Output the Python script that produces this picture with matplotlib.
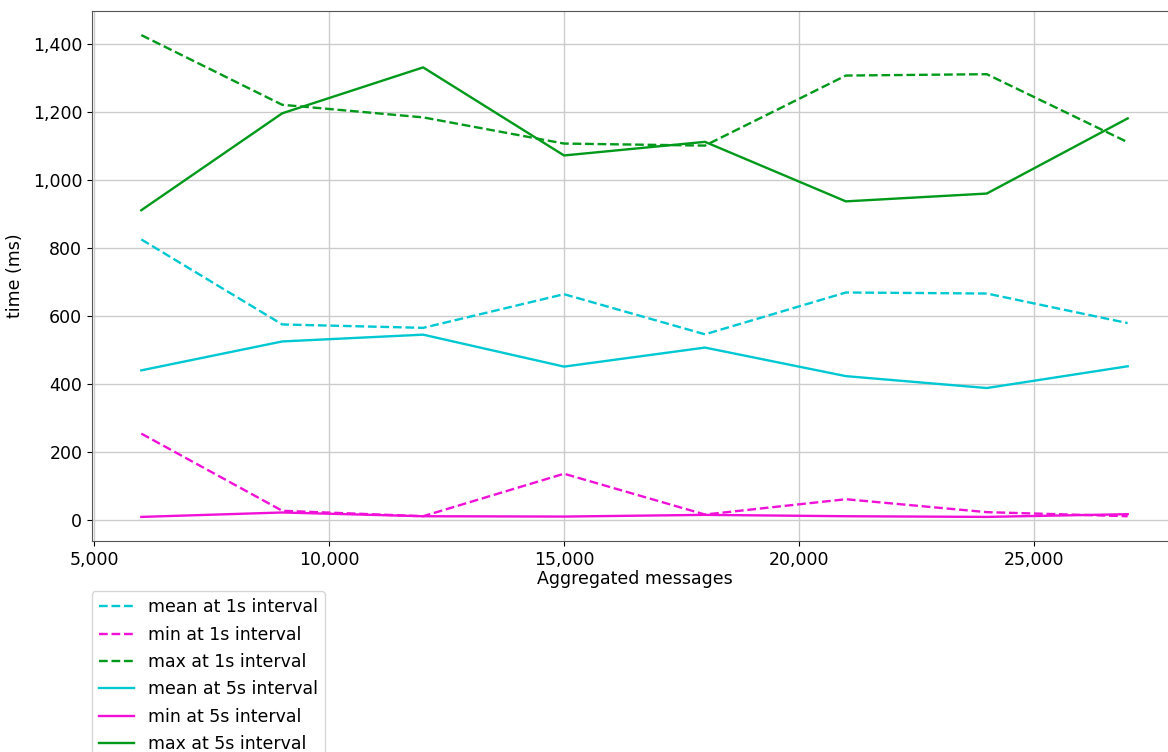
import matplotlib
matplotlib.use("Agg")
import matplotlib.pyplot as plt
from matplotlib.ticker import FuncFormatter

messages = [6000, 9000, 12000, 15000, 18000, 21000, 24000, 27000]

mean_1s = [826, 576, 566, 665, 547, 670, 667, 580]
min_1s = [255, 28, 12, 137, 17, 62, 24, 12]
max_1s = [1427, 1222, 1185, 1108, 1102, 1308, 1312, 1112]

mean_5s = [441, 526, 546, 452, 508, 424, 389, 453]
min_5s = [10, 23, 12, 11, 16, 12, 10, 18]
max_5s = [912, 1197, 1332, 1073, 1113, 938, 961, 1182]

CYAN = '#00c8d2'
MAGENTA = '#f010d8'
GREEN = '#00991a'

fig = plt.figure(figsize=(11.68, 7.52), dpi=100)
ax = fig.add_axes([92 / 1168, 1 - 541 / 752, 1085 / 1168, 530 / 752])

ax.plot(messages, mean_1s, '--', color=CYAN, lw=1.7, label='mean at 1s interval')
ax.plot(messages, min_1s, '--', color=MAGENTA, lw=1.7, label='min at 1s interval')
ax.plot(messages, max_1s, '--', color=GREEN, lw=1.7, label='max at 1s interval')
ax.plot(messages, mean_5s, '-', color=CYAN, lw=1.7, label='mean at 5s interval')
ax.plot(messages, min_5s, '-', color=MAGENTA, lw=1.7, label='min at 5s interval')
ax.plot(messages, max_5s, '-', color=GREEN, lw=1.7, label='max at 5s interval')

comma = FuncFormatter(lambda v, p: '{:,.0f}'.format(v))
ax.xaxis.set_major_formatter(comma)
ax.yaxis.set_major_formatter(comma)
ax.set_yticks([0, 200, 400, 600, 800, 1000, 1200, 1400])
ax.set_xticks([5000, 10000, 15000, 20000, 25000])
ax.tick_params(labelsize=12.5)
ax.grid(True, color='#cccccc', lw=1.0)
for s in ax.spines.values():
    s.set_color('#555555')

ax.set_xlabel('Aggregated messages', fontsize=12.5, labelpad=1)
ax.set_ylabel('time (ms)', fontsize=12.5, labelpad=6)

ax.legend(loc='upper left', bbox_to_anchor=(0.0, -0.095), fontsize=12.5,
          borderaxespad=0, handlelength=2.0, labelspacing=0.54)

fig.savefig('out.png', dpi=100)
